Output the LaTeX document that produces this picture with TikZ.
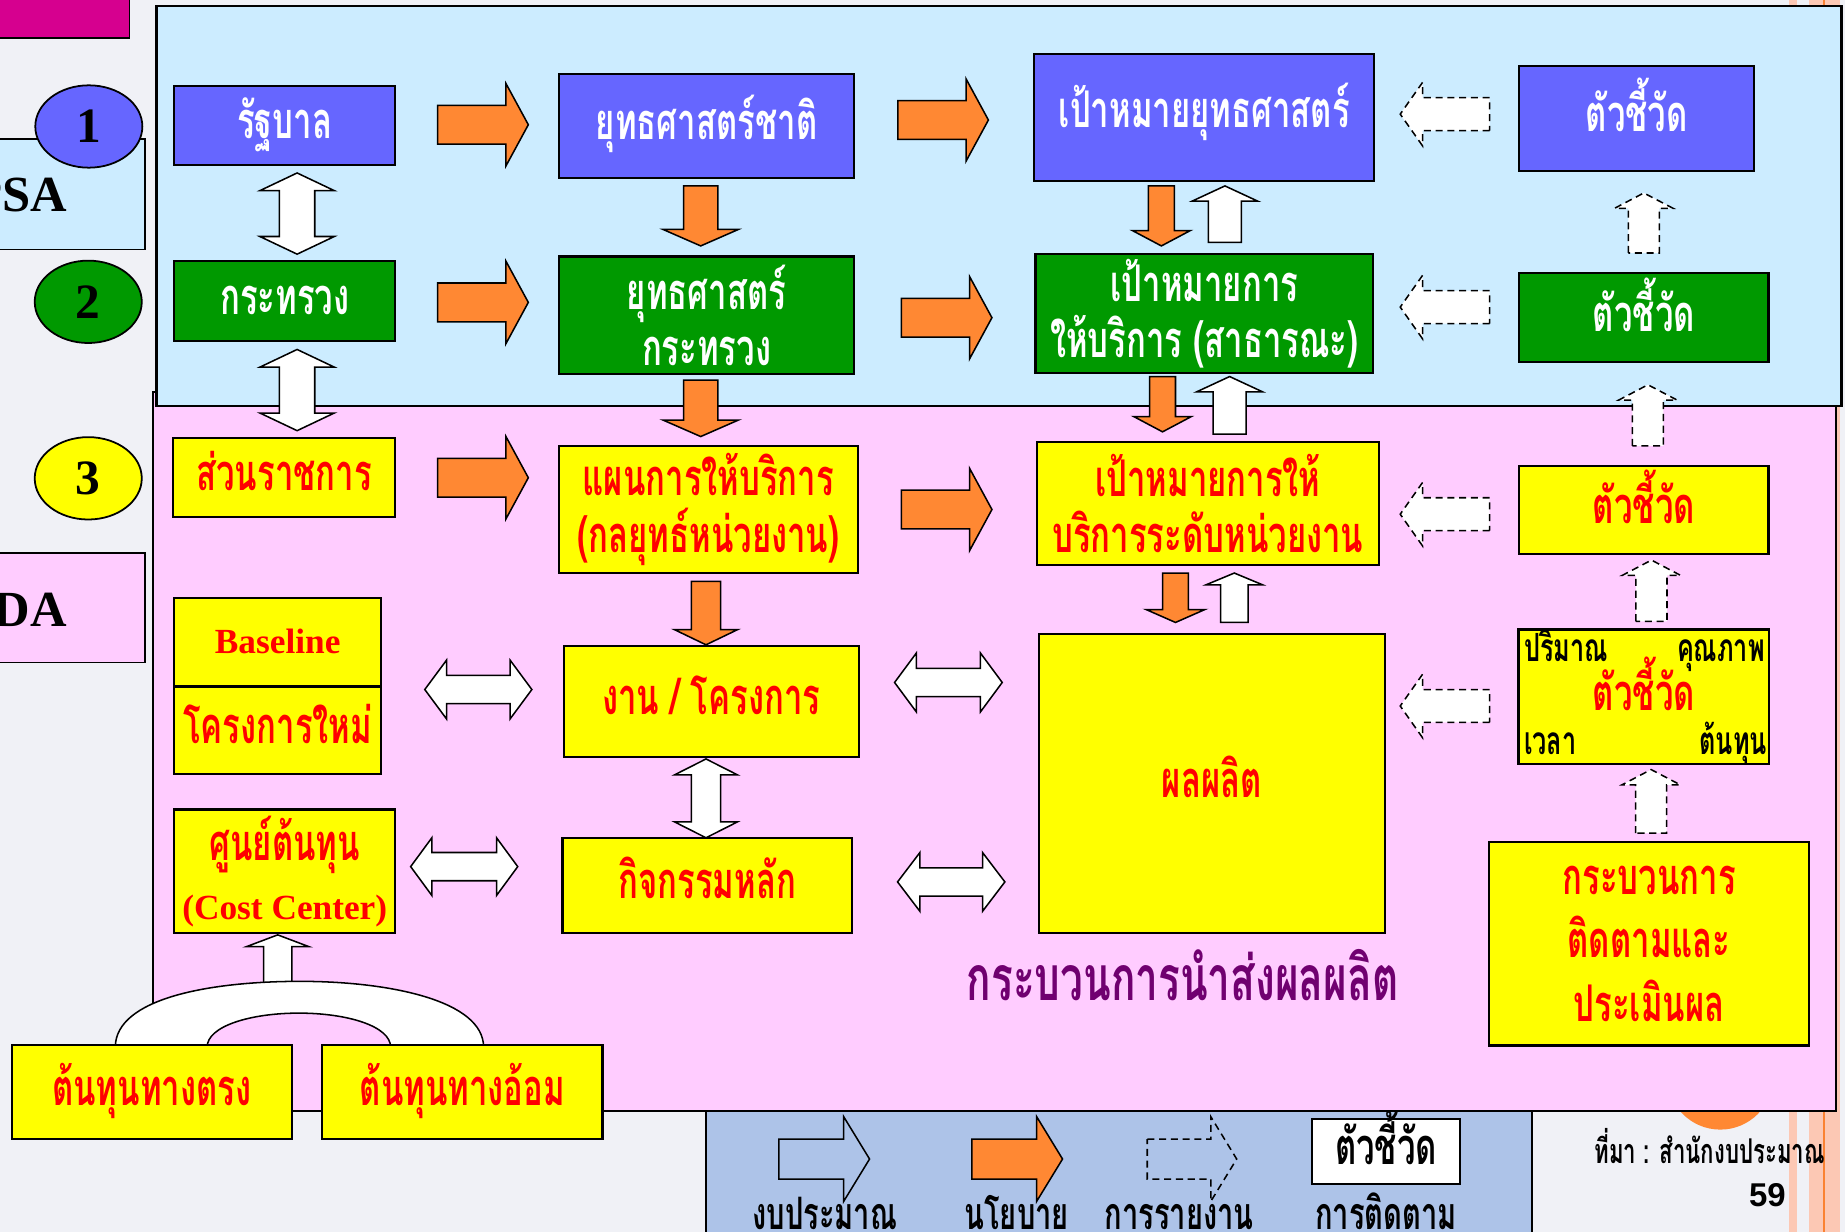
\documentclass[tikz,border=0pt]{standalone}
\usepackage{fontspec}
\setmainfont{Liberation Serif}
\newfontfamily\thf[Script=Thai,FakeStretch=0.65]{Loma}
\newfontfamily\heavyf{Liberation Sans}
\usetikzlibrary{shapes.geometric}
\definecolor{bgc}{RGB}{240,241,246}
\definecolor{pnlblue}{RGB}{204,236,255}
\definecolor{pnlpink}{RGB}{255,204,255}
\definecolor{boxblue}{RGB}{102,102,255}
\definecolor{boxgreen}{RGB}{0,153,0}
\definecolor{boxyel}{RGB}{255,255,0}
\definecolor{org}{RGB}{255,136,51}
\definecolor{mag}{RGB}{214,0,143}
\definecolor{leg}{RGB}{173,195,232}
\definecolor{purp}{RGB}{112,0,112}
\definecolor{salmon}{RGB}{252,200,180}
\definecolor{orgline}{RGB}{250,130,50}
% #1 style, #2 centre, #3 angle, #4 half length, #5 shaft half width, #6 head half width, #7 head length
\newcommand{\blockarrow}[7]{%
  \begin{scope}[shift={#2},rotate=#3]
    \path[#1] (-#4,-#5) -- ({#4-#7},-#5) -- ({#4-#7},-#6) -- (#4,0) -- ({#4-#7},#6) -- ({#4-#7},#5) -- (-#4,#5) -- cycle;
  \end{scope}}
\newcommand{\dblockarrow}[7]{%
  \begin{scope}[shift={#2},rotate=#3]
    \path[#1] (-#4,0) -- ({-#4+#7},-#6) -- ({-#4+#7},-#5) -- ({#4-#7},-#5) -- ({#4-#7},-#6) -- (#4,0) -- ({#4-#7},#6) -- ({#4-#7},#5) -- ({-#4+#7},#5) -- ({-#4+#7},#6) -- cycle;
  \end{scope}}
\tikzset{
  bx/.style={draw=black, line width=1.8pt, inner sep=0pt, align=center,
    font=\thf\bfseries\fontsize{43}{48}\selectfont},
  bluebox/.style={bx, fill=boxblue, text=white},
  greenbox/.style={bx, fill=boxgreen, text=white},
  yelbox/.style={bx, fill=boxyel, text=red},
  one/.style={text height=34pt, text depth=11pt},
  sz/.style 2 args={minimum width=#1pt, minimum height=#2pt},
  oarr/.style={draw=black, fill=org, line width=1.3pt},
  warr/.style={draw=black, fill=white, line width=1.3pt},
  dsh/.style={draw=black, fill=white, line width=1.3pt, dash pattern=on 6pt off 4pt},
  num/.style={ellipse, draw=black, line width=1.5pt, minimum width=91pt, minimum height=70pt,
    inner sep=0pt, font=\bfseries\fontsize{42}{48}\selectfont},
  small/.style={inner sep=0pt, text=black, font=\thf\bfseries\fontsize{33}{36}\selectfont,
    text height=27pt, text depth=9pt},
  legtxt/.style={small, font=\thf\bfseries\fontsize{38}{40}\selectfont},
}
\begin{document}
\begin{tikzpicture}[x=1pt,y=-1pt]
\useasboundingbox (0,0) rectangle (1568,1047);
\clip (0,0) rectangle (1568,1047);
\fill[bgc] (0,0) rectangle (1568,1047);
% right decorative stripes
\fill[salmon] (1520,-5) rectangle (1527,1052);
\fill[salmon] (1537,-5) rectangle (1564,1052);
\draw[orgline, line width=1.5pt] (1550,-5) -- (1550,1052);
\fill[org] (1462,915) circle[radius=45];
% top left magenta tab
\draw[fill=mag, line width=1.5pt] (-5,-5) rectangle (110,32);
% panels
\draw[fill=pnlpink, line width=1.8pt] (130,333) rectangle (1560,944);
\draw[fill=pnlblue, line width=1.8pt] (133,5) rectangle (1565,345);
% left labels
\draw[fill=pnlblue, line width=1.5pt] (-5,118) rectangle (123,212);
\node[anchor=east, inner sep=0pt, font=\bfseries\fontsize{43}{48}\selectfont] (psa) at (57,166) {PSA};
\draw[fill=pnlpink, line width=1.5pt] (-5,470) rectangle (123,563);
\node[anchor=east, inner sep=0pt, font=\bfseries\fontsize{43}{48}\selectfont] (sda) at (57,518) {SDA};
\node[num, fill=boxblue] (e1) at (75.5,107.5) {1};
\node[num, fill=boxgreen] (e2) at (75,256.5) {2};
\node[num, fill=boxyel] (e3) at (75,406.5) {3};
% legend panel
\draw[fill=leg, line width=1.5pt] (600,944) rectangle (1302,1060);
% ---- boxes row 1
\node[bluebox, one, sz={188}{67}] (rb) at (242,106.5) {รัฐบาล};
\node[bluebox, one, sz={251}{88}] (ys) at (600.5,107) {ยุทธศาสตร์ชาติ};
\node[bluebox, sz={289}{108}] (pm) at (1023.5,100) {};
\node[inner sep=0pt, text=white, font=\thf\bfseries\fontsize{43}{48}\selectfont, text height=34pt, text depth=11pt] (pmt) at (1023.5,97) {เป้าหมายยุทธศาสตร์};
\node[bluebox, one, sz={200}{89}] (k1) at (1391,100.5) {ตัวชี้วัด};
% row 2
\node[greenbox, one, sz={188}{68}] (kt) at (242,256) {กระทรวง};
\node[greenbox, sz={251}{100}] (ysk) at (600.5,268) {ยุทธศาสตร์\\กระทรวง};
\node[greenbox, sz={287}{101}] (pmk) at (1023.5,266.5) {เป้าหมายการ\\ให้บริการ (สาธารณะ)};
\node[greenbox, one, sz={212}{76}] (k2) at (1397,270) {ตัวชี้วัด};
% row 3
\node[yelbox, one, sz={189}{67}] (sr) at (241.5,405.5) {ส่วนราชการ};
\node[yelbox, sz={254}{108}] (pn) at (602,433) {แผนการให้บริการ\\(กลยุทธ์หน่วยงาน)};
\node[yelbox, sz={291}{104}] (pmh) at (1026.5,428) {เป้าหมายการให้\\บริการระดับหน่วยงาน};
\node[yelbox, one, sz={212}{75}] (k3) at (1397,433.5) {ตัวชี้วัด};
% row 4
\node[yelbox, sz={176}{75}, font=\bfseries\fontsize{30}{36}\selectfont] (bl1) at (236,545.5) {Baseline};
\node[yelbox, one, sz={176}{74}] (bl2) at (236,620.5) {โครงการใหม่};
\node[yelbox, one, sz={251}{94}] (ng) at (604.5,596) {งาน / โครงการ};
\node[yelbox, one, sz={294}{254}] (pp) at (1030,666) {ผลผลิต};
\node[yelbox, one, sz={213}{114}] (k4) at (1397,592) {ตัวชี้วัด};
\node[small, anchor=west] (k4a) at (1295,553) {ปริมาณ};
\node[small, anchor=east] (k4b) at (1500,553) {คุณภาพ};
\node[small, anchor=west] (k4c) at (1295,632) {เวลา};
\node[small, anchor=east] (k4d) at (1502,632) {ต้นทุน};
% row 5
\node[yelbox, sz={188}{105}] (cc) at (242,740.5) {ศูนย์ต้นทุน\\[2pt]{\rmfamily\fontsize{30}{36}\selectfont(Cost Center)}};
\node[yelbox, one, sz={246}{81}] (kj) at (601,752.5) {กิจกรรมหลัก};
\node[yelbox, sz={272}{173}, font=\thf\bfseries\fontsize{43}{54}\selectfont] (kb) at (1401.5,802) {กระบวนการ\\ติดตามและ\\ประเมินผล};
\node[inner sep=0pt, text=purp, font=\thf\bfseries\fontsize{53}{56}\selectfont] (cap) at (1005,829) {กระบวนการนำส่งผลผลิต};
% cost arch and arrow
\blockarrow{warr}{(236,815)}{90}{20.5}{12}{26.5}{10}
\path[warr] (98,890) .. controls (98,848) and (180,834) .. (255,834)
  .. controls (330,834) and (411,850) .. (411,890) -- (332,890)
  .. controls (332,872) and (295,861) .. (254,861)
  .. controls (213,861) and (176,872) .. (176,890) -- cycle;
\node[yelbox, one, sz={238}{80}] (dt) at (129,928) {ต้นทุนทางตรง};
\node[yelbox, one, sz={238}{80}] (di) at (393,928) {ต้นทุนทางอ้อม};
% ---- orange policy arrows
\blockarrow{oarr}{(410.5,106)}{0}{38.5}{16.5}{35}{19}
\blockarrow{oarr}{(801.5,102)}{0}{38.5}{16.5}{35}{19}
\blockarrow{oarr}{(410.5,257)}{0}{38.5}{16.5}{35}{19}
\blockarrow{oarr}{(804.5,270)}{0}{38.5}{16.5}{35}{19}
\blockarrow{oarr}{(410.5,406)}{0}{38.5}{16.5}{35}{19}
\blockarrow{oarr}{(804.5,433)}{0}{38.5}{16.5}{35}{19}
\blockarrow{oarr}{(595.5,183.5)}{-90}{25.5}{14.5}{32}{14}
\blockarrow{oarr}{(595.5,347)}{-90}{24}{14.5}{32}{14}
\blockarrow{oarr}{(600,521)}{-90}{27}{12.5}{27}{13}
\blockarrow{oarr}{(987,183.5)}{-90}{25.5}{11}{24.5}{13}
\blockarrow{oarr}{(988,343.5)}{-90}{23.5}{11}{24.5}{13}
\blockarrow{oarr}{(999,508)}{-90}{21}{11}{25}{11}
% white budget arrows (up)
\blockarrow{warr}{(1041,182)}{90}{24}{14}{28}{13}
\blockarrow{warr}{(1045,344.5)}{90}{24.5}{14}{28}{13}
\blockarrow{warr}{(1049,508)}{90}{21}{11.7}{24}{10}
% white double arrows
\dblockarrow{warr}{(252.5,181.5)}{90}{34.5}{15}{31.6}{15}
\dblockarrow{warr}{(252.5,331.5)}{90}{34.5}{15}{31.6}{15}
\dblockarrow{warr}{(600,678.5)}{90}{33.5}{12.4}{26.7}{13.5}
\dblockarrow{warr}{(406.5,586)}{0}{45.5}{12}{25}{18.5}
\dblockarrow{warr}{(806,580)}{0}{45.75}{12}{25}{18.5}
\dblockarrow{warr}{(808.4,749.5)}{0}{45.6}{12}{25}{19}
\dblockarrow{warr}{(394.5,736.5)}{0}{45.5}{12}{24.5}{18}
% dashed report arrows
\blockarrow{dsh}{(1228,97)}{180}{38}{14}{27}{19}
\blockarrow{dsh}{(1228,261)}{180}{38}{14}{27}{19}
\blockarrow{dsh}{(1228,437)}{180}{38}{14}{27}{19}
\blockarrow{dsh}{(1228,600)}{180}{38}{14}{27}{19}
\blockarrow{dsh}{(1397,189.5)}{90}{25.5}{13.2}{24.8}{13}
\blockarrow{dsh}{(1400.5,353)}{90}{26}{13.2}{24.8}{13}
\blockarrow{dsh}{(1403.5,502)}{90}{26}{13.2}{24.8}{13}
\blockarrow{dsh}{(1403.2,681)}{90}{27}{13.2}{24.8}{13}
% legend
\blockarrow{draw=black, line width=1.3pt}{(700.5,985)}{0}{38.5}{17}{36}{22}
\blockarrow{oarr}{(864.5,985)}{0}{38.5}{17}{36}{22}
\blockarrow{draw=black, line width=1.3pt, dash pattern=on 6pt off 4pt}{(1013,985)}{0}{38}{17}{36}{22}
\node[bx, one, fill=white, text=black, sz={126}{55}] (lk) at (1178,978.5) {ตัวชี้วัด};
\node[legtxt] (l1) at (701,1036) {งบประมาณ};
\node[legtxt] (l2) at (864,1036) {นโยบาย};
\node[legtxt] (l3) at (1002,1036) {การรายงาน};
\node[legtxt] (l4) at (1178,1036) {การติดตาม};
% source
\node[small, font=\thf\bfseries\fontsize{29}{31}\selectfont, text height=24pt, text depth=7pt] (src) at (1453,980) {ที่มา : สำนักงบประมาณ};
\node[inner sep=0pt, font=\heavyf\bfseries\fontsize{28}{30}\selectfont] (pg) at (1502,1016) {59};
\end{tikzpicture}
\end{document}
